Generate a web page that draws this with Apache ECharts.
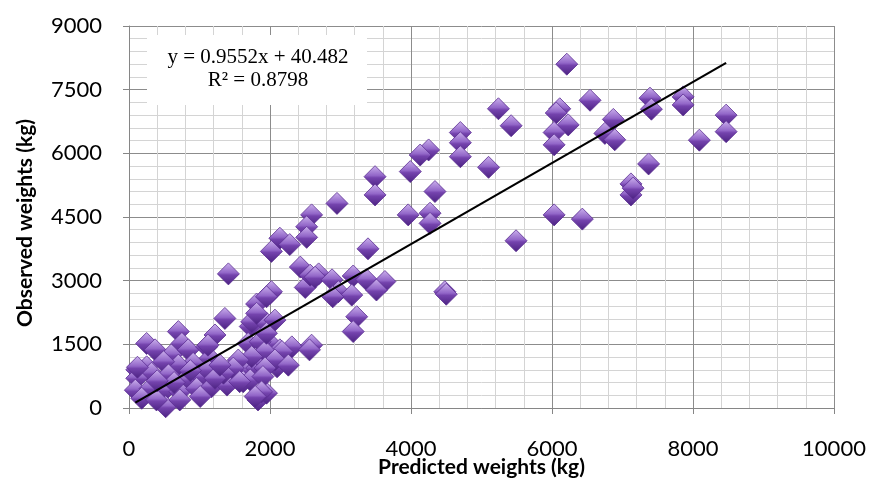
<!DOCTYPE html>
<html>
<head>
<meta charset="utf-8">
<script src="https://cdn.jsdelivr.net/npm/echarts@6/dist/echarts.min.js"></script>
<style>html,body{margin:0;padding:0;background:#fff}#c{width:870px;height:480px}</style>
</head>
<body>
<div id="c"></div>
<script>
// Predicted weights (kg) – x values
const predicted = [
  250,370,700,750,600,840,1100,1150,910,700,490,250,110,320,560,110,820,1030,1240,1460,
  1620,1810,1950,2160,90,300,510,720,960,1170,1390,1620,180,520,390,1010,720,1830,1950,2100,
  1720,1690,2000,2140,1220,1120,1860,2310,2590,2560,2170,1930,1740,1550,2070,2260,1930,1480,1340,1120,
  1720,1900,1570,1880,1790,1220,1360,1740,1950,2070,1950,2000,1810,1410,120,1810,640,870,400,1290,
  2500,2430,2570,2690,2640,2880,3180,2970,3160,3370,3630,3510,2020,1950,2890,3230,3180,
  3490,3490,2950,2590,2520,2520,2140,2280,2020,3390,3990,4250,4130,4700,4700,4700,4340,3960,4270,4270,4480,4500,
  5100,5240,5420,5490,6030,6430,6210,6110,6060,6230,6030,6030,6540,6870,6750,6890,7390,7410,7860,7860,8470,8470,8090,7370,7120,7120,7150
];
// Observed weights (kg) – y values
const observed = [
  1520,1370,1800,1520,1250,1370,1440,1170,1050,1010,1090,970,900,820,780,700,660,740,660,820,
  900,940,1050,1090,420,460,420,380,460,500,540,620,230,30,190,270,190,190,350,970,
  1920,1520,1520,1370,1720,1480,1560,1440,1480,1370,1330,1330,1210,1130,1130,1010,940,940,820,900,
  660,740,620,380,270,700,2110,2030,2000,2070,1760,2700,2450,3160,960,2230,600,880,640,1010,
  2840,3320,3130,3160,3080,3020,3110,2740,2660,3020,2980,2780,2740,2620,2620,2150,1800,
  5450,5020,4820,4550,4270,4020,4000,3850,3690,3750,5570,6080,5960,6490,6250,5920,5100,4550,4590,4350,2740,2680,
  5670,7050,6650,3940,4550,4450,8100,7050,6950,6670,6490,6200,7250,6800,6470,6320,7300,7040,7330,7140,6900,6510,6310,5750,5280,5020,5180
];
// Trendline coefficients shown on the chart
const slope = 0.9552;
const intercept = 40.482;
const rSquared = 0.8798;
const xTicks = [0, 2000, 4000, 6000, 8000, 10000];
const yTicks = [0, 1500, 3000, 4500, 6000, 7500, 9000];

const points = predicted.map((x, i) => [x, observed[i]]);
const xMin = Math.min(...predicted), xMax = Math.max(...predicted);
const trend = [[xMin, slope * xMin + intercept], [xMax, slope * xMax + intercept]];

const chart = echarts.init(document.getElementById('c'), null, {renderer: 'canvas'});
const lab = {color: '#000', fontFamily: 'Lato', fontSize: 22, formatter: v => String(v)};
chart.setOption({
  animation: false,
  backgroundColor: '#fff',
  grid: {left: 129, right: 36, top: 26, bottom: 72, containLabel: false, outerBoundsMode: 'none'},
  xAxis: {
    type: 'value', min: xTicks[0], max: xTicks[xTicks.length - 1], interval: 2000,
    axisLine: {show: true, lineStyle: {color: '#868686', width: 1}},
    axisTick: {show: true, length: 6, lineStyle: {color: '#868686'}},
    minorTick: {show: false, splitNumber: 5},
    splitLine: {show: true, lineStyle: {color: '#8c8c8c', width: 1}},
    minorSplitLine: {show: true, lineStyle: {color: '#d4d4d4', width: 1}},
    axisLabel: Object.assign({margin: 30}, lab),
    name: 'Predicted weights (kg)', nameLocation: 'middle', nameGap: 49, nameMoveOverlap: false,
    nameTextStyle: {color: '#000', fontFamily: 'Lato', fontWeight: 'bold', fontSize: 21}
  },
  yAxis: {
    type: 'value', min: yTicks[0], max: yTicks[yTicks.length - 1], interval: 1500,
    axisLine: {show: true, lineStyle: {color: '#868686', width: 1}},
    axisTick: {show: true, length: 6, lineStyle: {color: '#868686'}},
    minorTick: {show: false, splitNumber: 5},
    splitLine: {show: true, lineStyle: {color: '#8c8c8c', width: 1}},
    minorSplitLine: {show: true, lineStyle: {color: '#d4d4d4', width: 1}},
    axisLabel: Object.assign({margin: 27}, lab),
    name: 'Observed weights (kg)', nameLocation: 'middle', nameGap: 93, nameRotate: 90, nameMoveOverlap: false,
    nameTextStyle: {color: '#000', fontFamily: 'Lato', fontWeight: 'bold', fontSize: 21, padding: [0, 12, 0, 0]}
  },
  graphic: [{
    type: 'group', left: 147, top: 35, z: 100,
    children: [
      {type: 'rect', z: 100, shape: {x: 0, y: 0, width: 220, height: 70}, style: {fill: '#fff'}},
      {type: 'text', z: 101, x: 111, y: 22, style: {text: 'y = ' + slope + 'x + ' + intercept, font: '21px "Liberation Serif"', fill: '#000', align: 'center', verticalAlign: 'middle'}},
      {type: 'text', z: 101, x: 111, y: 45, style: {text: 'R² = ' + rSquared, font: '21px "Liberation Serif"', fill: '#000', align: 'center', verticalAlign: 'middle'}}
    ]
  }],
  series: [{
    type: 'scatter', data: points, symbol: 'diamond', symbolSize: 22, z: 3,
    itemStyle: {
      color: {type: 'linear', x: 0, y: 0, x2: 0, y2: 1, colorStops: [
        {offset: 0, color: '#cdb3ee'}, {offset: 0.45, color: '#9266c8'},
        {offset: 0.55, color: '#7443ad'}, {offset: 1, color: '#4a2180'}]},
      borderColor: '#5b2d92', borderWidth: 0.8, opacity: 1
    }
  }, {
    type: 'line', data: trend, symbol: 'none', z: 4,
    lineStyle: {color: '#000', width: 2.2}
  }]
});
</script>
</body>
</html>
